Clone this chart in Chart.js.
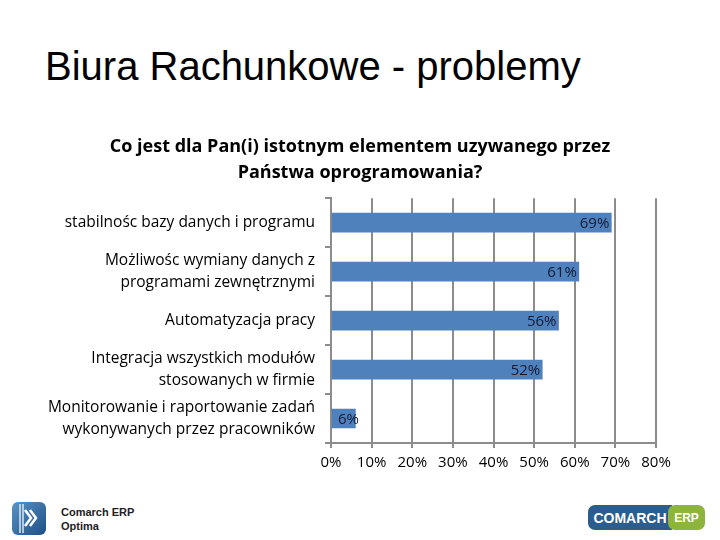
<!DOCTYPE html>
<html>
<head>
<meta charset="utf-8">
<script src="https://cdn.jsdelivr.net/npm/chart.js@4/dist/chart.umd.min.js"></script>
<style>
	body { margin: 0; width: 720px; height: 540px; background: #fff; position: relative; overflow: hidden; font-family: "Liberation Sans", Arial, sans-serif; }
	h1 { position: absolute; left: 45px; top: 44px; margin: 0; font-weight: normal; font-size: 40px; color: #000; white-space: nowrap; }
	#wrap { position: absolute; left: 0; top: 120px; width: 720px; height: 360px; }
	.optima { position: absolute; left: 12px; top: 500px; }
	.optima-text { position: absolute; left: 61px; top: 505px; font: bold 11px "Liberation Sans", Arial, sans-serif; color: #222; line-height: 14px; }
	.erp { position: absolute; left: 588px; top: 505px; width: 117px; height: 25px; border-radius: 7px; overflow: hidden; display: flex; font: bold 14px "Liberation Sans", Arial, sans-serif; color: #fff; }
	.erp .a { background: #2c5d8f; width: 84px; display: flex; align-items: center; justify-content: center; }
	.erp .b { background: #8db43c; flex: 1; display: flex; align-items: center; justify-content: center; font-size: 12px; border-radius: 7px 0 0 7px; margin-left: -4px; }
</style>
</head>
<body>
<h1>Biura Rachunkowe - problemy</h1>
<div id="wrap"><canvas id="myChart"></canvas></div>

<svg class="optima" width="34" height="36" viewBox="0 0 34 36">
	<defs>
		<linearGradient id="g" x1="0" y1="0" x2="1" y2="1">
			<stop offset="0" stop-color="#5a93c6"/>
			<stop offset="1" stop-color="#1d4f86"/>
		</linearGradient>
	</defs>
	<rect x="0" y="2" width="34" height="33" rx="6" fill="url(#g)"/>
	<path d="M8 4 L8 33 M11 4 L11 33" stroke="#dbe7f3" stroke-width="1.5"/>
	<path d="M13 10 L19 18 L13 26 M18 10 L24 18 L18 26" stroke="#fff" stroke-width="2.5" fill="none"/>
</svg>
<div class="optima-text">Comarch ERP<br>Optima</div>
<div class="erp"><div class="a">COMARCH</div><div class="b">ERP</div></div>

<script>
const categories = [
	"stabilnośc bazy danych i programu",
	["Możliwośc wymiany danych z", "programami zewnętrznymi"],
	"Automatyzacja pracy",
	["Integracja wszystkich modułów", "stosowanych w firmie"],
	["Monitorowanie i raportowanie zadań", "wykonywanych przez pracowników"],
];
const values = [69, 61, 56, 52, 6];
const xTicks = [0, 10, 20, 30, 40, 50, 60, 70, 80];

const labelFont = '"Open Sans", sans-serif';

// etykiety wartości przy końcu słupka
const valueLabels = {
	id: "valueLabels",
	afterDatasetsDraw(chart) {
		const ctx = chart.ctx;
		const meta = chart.getDatasetMeta(0);
		ctx.save();
		ctx.font = "15px " + labelFont;
		ctx.fillStyle = "#111a33";
		ctx.textBaseline = "middle";
		ctx.textAlign = "left";
		meta.data.forEach((bar, i) => {
			const text = values[i] + "%";
			const w = ctx.measureText(text).width;
			const x = Math.max(bar.x - 2 - w, bar.base + 6);
			ctx.fillText(text, x, bar.y + 1);
		});
		ctx.restore();
	},
};

const config = {
	type: "bar",
	data: {
		labels: categories,
		datasets: [
			{
				data: values,
				backgroundColor: "#4f81bd",
				barThickness: 19,
			},
		],
	},
	options: {
		indexAxis: "y",
		responsive: true,
		maintainAspectRatio: false,
		animation: false,
		plugins: {
			legend: { display: false },
			tooltip: { enabled: false },
			title: {
				display: true,
				text: ["Co jest dla Pan(i) istotnym elementem uzywanego przez", "Państwa oprogramowania?"],
				color: "#000",
				font: { family: labelFont, size: 18, weight: "bold", lineHeight: 1.45 },
				padding: { top: 14, bottom: 12 },
			},
		},
		scales: {
			x: {
				min: 0,
				max: 80,
				afterBuildTicks(scale) {
					scale.ticks = xTicks.map(v => ({ value: v }));
				},
				afterFit(scale) {
					scale.height = 37;
				},
				ticks: {
					color: "#000",
					font: { family: labelFont, size: 15 },
					padding: 6,
					maxRotation: 0,
					callback: v => v + "%",
				},
				grid: { color: "#8c8c8c", lineWidth: 2, tickLength: 5 },
				border: { color: "#8c8c8c", width: 2 },
			},
			y: {
				afterFit(scale) {
					scale.width = 331;
				},
				ticks: {
					color: "#000",
					font: { family: labelFont, size: 15.5, lineHeight: 1.4 },
					padding: 10,
				},
				grid: { drawOnChartArea: false, color: "#8c8c8c", lineWidth: 2, tickLength: 6 },
				border: { color: "#8c8c8c", width: 2 },
			},
			// pusta oś po prawej - tylko rezerwuje miejsce
			yRight: {
				type: "category",
				position: "right",
				afterFit(scale) {
					scale.width = 64;
				},
				ticks: { display: false },
				grid: { display: false },
				border: { display: false },
			},
		},
	},
	plugins: [valueLabels],
};

new Chart(document.getElementById("myChart"), config);
</script>
</body>
</html>
